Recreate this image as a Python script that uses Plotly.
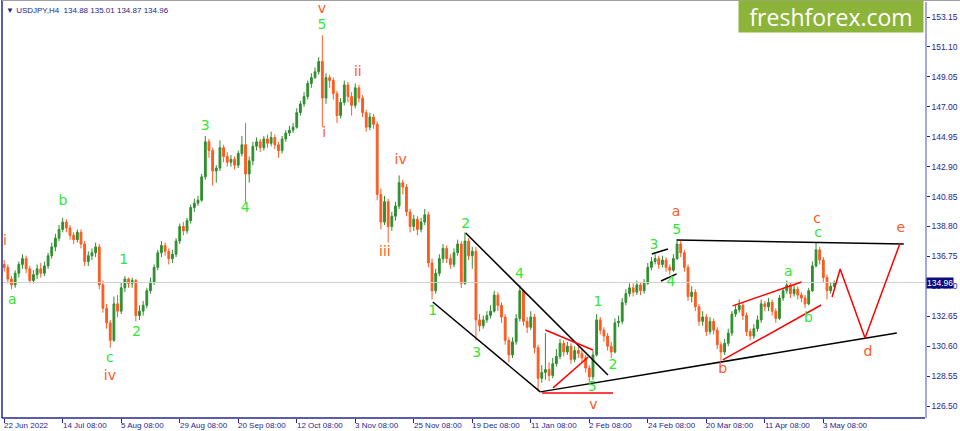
import plotly.graph_objects as go

# USDJPY H4 chart redrawn with one candle per trading day (day index on x)
first_open = 136.2
closes = [
    136.0, 135.2, 134.8, 135.6, 136.2, 136.6, 135.9, 135.1, 135.5, 135.9,
    135.6, 136.1, 136.8, 137.4, 138.0, 138.6, 139.1, 138.7, 138.2, 137.9,
    138.4, 137.6, 136.4, 136.8, 137.0, 137.4, 134.8, 133.2, 132.2, 131.0,
    133.5, 133.0, 134.6, 135.2, 134.9, 135.1, 132.7, 133.0, 133.4, 134.4,
    135.0, 136.0, 137.0, 137.5, 137.1, 136.6, 136.9, 137.8, 138.8, 138.5,
    139.2, 140.1, 140.4, 140.6, 142.2, 144.6, 144.0, 142.6, 142.8, 144.2,
    143.6, 143.2, 143.4, 143.0, 143.8, 144.4, 142.4, 143.3, 144.3, 144.6,
    144.2, 144.8, 144.5, 144.9, 144.4, 144.0, 144.8, 145.2, 145.4, 145.6,
    146.6, 147.2, 147.7, 148.6, 149.0, 149.4, 150.1, 147.6, 149.0, 148.8,
    147.9, 146.4, 147.3, 148.5, 147.7, 147.1, 148.3, 147.6, 146.6, 145.6,
    146.3, 145.8, 141.0, 139.1, 140.5, 138.8, 139.5, 140.2, 141.8, 141.5,
    139.8, 138.8, 139.3, 138.6, 139.1, 139.6, 136.3, 134.4, 135.6, 136.6,
    137.3, 136.6, 136.2, 137.0, 137.6, 134.9, 137.8, 136.8, 137.1, 132.4,
    132.0, 132.4, 132.7, 133.0, 134.1, 133.4, 132.6, 131.0, 130.0, 130.9,
    132.5, 134.4, 132.3, 131.9, 132.6, 130.5, 128.4, 128.8, 129.0, 128.6,
    129.4, 129.9, 130.8, 130.2, 130.6, 129.7, 130.3, 130.1, 129.8, 129.1,
    128.5, 130.0, 132.4, 131.7, 131.3, 130.6, 130.2, 132.2, 132.3, 133.6,
    134.2, 134.6, 134.3, 134.8, 134.4, 134.9, 136.0, 136.4, 136.6, 136.2,
    136.5, 136.0, 135.8, 136.6, 137.6, 137.0, 136.0, 134.0, 134.3, 133.3,
    132.3, 132.6, 131.6, 132.3, 131.7, 130.7, 130.2, 130.8, 131.5, 132.8,
    133.1, 133.4, 132.7, 131.6, 131.3, 131.8, 132.4, 133.5, 133.3, 133.6,
    133.0, 132.5, 133.9, 134.4, 134.8, 134.2, 134.5, 134.1, 133.9, 133.5,
    134.4, 136.1, 137.2, 136.5, 135.3, 134.4, 134.7, 134.96,
]
highs = [
    136.5, 136.2, 135.4, 135.8, 136.4, 136.9, 136.8, 136.1, 135.8, 136.2,
    136.3, 136.4, 137.0, 137.7, 138.3, 138.9, 139.4, 139.3, 138.9, 138.4,
    138.6, 138.6, 137.8, 137.1, 137.3, 137.7, 137.6, 135.1, 133.5, 132.4,
    134.0, 134.1, 135.0, 135.4, 135.3, 135.3, 135.2, 133.4, 133.7, 134.6,
    135.3, 136.2, 137.2, 137.8, 137.7, 137.3, 137.2, 138.0, 139.0, 139.1,
    139.4, 140.3, 140.7, 140.9, 142.4, 145.0, 144.8, 144.2, 143.0, 144.7,
    144.4, 143.9, 143.7, 143.6, 144.0, 145.0, 145.9, 143.6, 144.6, 144.9,
    144.8, 145.0, 145.1, 145.3, 145.1, 144.6, 145.0, 145.4, 145.7, 145.9,
    146.9, 147.4, 148.0, 148.8, 149.3, 149.7, 150.4, 151.9, 149.3, 149.2,
    149.0, 148.1, 147.6, 148.8, 148.7, 148.0, 148.6, 148.5, 147.8, 146.8,
    146.6, 146.5, 146.0, 141.4, 140.9, 140.7, 139.8, 140.5, 142.3, 142.0,
    141.7, 140.0, 139.6, 139.5, 139.4, 140.0, 139.8, 136.6, 135.9, 136.9,
    137.6, 137.5, 136.9, 137.3, 137.9, 137.8, 138.4, 138.0, 137.4, 137.4,
    132.8, 132.7, 133.0, 133.4, 134.4, 134.3, 133.6, 132.8, 131.2, 131.2,
    132.8, 134.8, 134.5, 132.6, 133.0, 132.8, 130.7, 129.3, 131.5, 129.5,
    129.8, 130.4, 131.1, 131.0, 130.9, 130.8, 130.6, 130.6, 130.4, 130.0,
    129.3, 130.3, 132.8, 132.6, 131.9, 131.5, 130.9, 132.5, 132.7, 133.9,
    134.5, 134.9, 134.9, 135.1, 135.0, 135.2, 136.3, 136.7, 136.9, 136.8,
    136.8, 136.7, 136.2, 136.9, 137.9, 137.8, 137.2, 136.2, 134.7, 134.5,
    133.5, 133.0, 132.8, 132.6, 132.5, 131.9, 130.9, 131.1, 131.8, 133.0,
    133.4, 133.8, 133.6, 132.9, 131.8, 132.1, 132.7, 133.8, 133.7, 133.9,
    133.8, 133.2, 134.1, 134.6, 135.1, 135.0, 134.8, 134.7, 134.3, 134.1,
    134.6, 136.4, 137.7, 137.4, 136.7, 135.5, 135.0, 135.1,
]
lows = [
    135.7, 134.9, 134.5, 134.6, 135.3, 135.9, 135.6, 134.9, 134.9, 135.2,
    135.3, 135.4, 135.9, 136.6, 137.1, 137.8, 138.4, 138.4, 137.9, 137.6,
    137.7, 137.3, 136.1, 136.1, 136.5, 136.7, 134.5, 132.9, 131.8, 130.5,
    130.9, 132.6, 132.8, 134.3, 134.6, 134.6, 132.3, 132.4, 132.7, 133.2,
    134.2, 134.8, 135.8, 136.7, 136.8, 136.2, 136.3, 136.7, 137.6, 138.2,
    138.3, 139.0, 139.8, 140.2, 140.5, 142.0, 143.5, 141.6, 141.8, 142.6,
    143.2, 142.9, 142.9, 142.7, 142.8, 143.6, 140.4, 141.8, 143.0, 144.0,
    143.9, 144.0, 144.2, 144.3, 144.1, 143.5, 143.8, 144.6, 145.0, 145.2,
    145.5, 146.4, 147.0, 147.5, 148.3, 148.9, 149.2, 145.6, 147.2, 148.3,
    147.5, 145.9, 146.2, 147.1, 147.3, 146.4, 146.9, 147.3, 146.3, 145.3,
    145.4, 145.5, 140.6, 138.6, 138.9, 137.7, 138.5, 139.2, 140.0, 141.0,
    139.5, 138.4, 138.5, 138.2, 138.4, 138.9, 136.0, 133.8, 134.2, 135.4,
    136.3, 136.3, 135.9, 136.0, 136.8, 134.6, 134.8, 136.5, 135.9, 131.0,
    131.6, 131.8, 132.2, 132.5, 132.9, 133.0, 132.2, 130.7, 129.5, 129.8,
    130.7, 132.3, 132.0, 131.5, 131.7, 130.1, 127.5, 128.1, 128.3, 128.2,
    128.4, 129.2, 129.7, 129.9, 130.0, 129.4, 129.5, 129.8, 129.5, 128.8,
    128.1, 128.3, 129.9, 131.4, 130.9, 130.3, 129.8, 130.1, 131.9, 132.1,
    133.4, 134.0, 134.0, 134.1, 134.1, 134.2, 134.8, 135.8, 136.2, 135.9,
    136.0, 135.7, 135.5, 135.7, 136.5, 136.7, 135.7, 133.7, 133.6, 133.0,
    132.0, 132.0, 131.3, 131.4, 131.4, 130.4, 129.6, 130.0, 130.6, 131.3,
    132.6, 132.9, 132.4, 131.3, 131.0, 131.1, 131.6, 132.2, 133.0, 133.0,
    132.7, 132.2, 132.4, 133.7, 134.2, 133.9, 134.0, 133.8, 133.6, 133.2,
    133.4, 134.3, 136.0, 136.2, 135.0, 133.8, 134.2, 134.6,
]
days = list(range(len(closes)))
opens = [first_open] + closes[:-1]

# axis labels
x_tick_days = [0, 16, 32, 48, 64, 80, 96, 112, 128, 144, 160, 176, 192, 208, 224]
x_tick_text = ["22 Jun 2022", "14 Jul 08:00", "5 Aug 08:00", "29 Aug 08:00",
               "20 Sep 08:00", "12 Oct 08:00", "3 Nov 08:00", "25 Nov 08:00",
               "19 Dec 08:00", "11 Jan 08:00", "2 Feb 08:00", "24 Feb 08:00",
               "20 Mar 08:00", "11 Apr 08:00", "3 May 08:00"]
y_tick_vals = [126.50, 128.55, 130.60, 132.65, 134.70, 136.75, 138.80, 140.85,
               142.90, 144.95, 147.00, 149.05, 151.10, 153.15]
last_price = 134.96

# wave counts (day, price)
green_text = ["a", "b", "c", "1", "2", "3", "4", "5", "1", "2", "3", "4", "5",
              "1", "2", "3", "4", "5", "a", "b", "c"]
green_day = [2.2, 16.1, 28.9, 32.7, 36.2, 55.0, 65.9, 86.9, 117.2, 126.2, 129.2,
             140.9, 160.8, 162.4, 166.5, 177.7, 182.3, 183.9, 214.4, 219.9, 222.6]
green_price = [133.70, 140.48, 129.73, 136.44, 131.51, 145.68, 140.0, 152.60,
               133.01, 138.97, 130.07, 135.48, 127.74, 133.56, 129.31, 137.53,
               134.93, 138.56, 135.62, 132.53, 138.29]
orange_text = ["i", "iv", "v", "i", "ii", "iii", "iv", "v", "a", "b", "c", "d", "e"]
orange_day = [0.2, 28.9, 86.9, 87.5, 96.7, 104.1, 108.4, 161.1, 183.7, 196.5,
              222.3, 236.2, 245.2]
orange_price = [137.74, 128.49, 153.70, 145.2, 149.38, 137.05, 143.29, 126.57,
                139.73, 128.97, 139.31, 130.14, 138.63]

# trend lines ((day, price), (day, price))
black_lines = [
    ((183.9, 137.88), (246.0, 137.60)),
    ((146.6, 127.47), (244.1, 131.51)),
    ((126.2, 138.36), (165.1, 128.63)),
    ((117.2, 133.63), (146.6, 127.47)),
    ((177.1, 136.92), (181.5, 137.26)),
    ((179.6, 135.07), (183.9, 135.55)),
]
red_lines = [
    ((148.0, 131.71), (161.0, 130.34)),
    ((150.1, 127.74), (159.7, 129.86)),
    ((147.1, 127.40), (166.5, 127.40)),
    ((199.2, 133.36), (218.0, 135.00)),
    ((196.5, 129.66), (223.4, 133.42)),
]
forecast_day = [226.4, 228.6, 235.4, 245.0]
forecast_price = [133.97, 135.89, 131.16, 137.67]

NAVY = "#262690"
GREEN = "#35e635"
ORANGE = "#ff5a1e"

fig = go.Figure()

fig.add_trace(go.Scatter(x=[-1, 260], y=[last_price, last_price], mode="lines",
                         line=dict(color="#d0d0d0", width=1), hoverinfo="skip"))

fig.add_trace(go.Candlestick(
    x=days, open=opens, high=highs, low=lows, close=closes,
    increasing=dict(line=dict(color="#2f8f2f", width=1), fillcolor="#2f8f2f"),
    decreasing=dict(line=dict(color="#ff5a1e", width=1), fillcolor="#ff5a1e"),
    whiskerwidth=0,
))


def seg_xy(lines):
    xs, ys = [], []
    for (d0, p0), (d1, p1) in lines:
        xs += [d0, d1, None]
        ys += [p0, p1, None]
    return xs, ys


bx, by = seg_xy(black_lines)
fig.add_trace(go.Scatter(x=bx, y=by, mode="lines", line=dict(color="black", width=1.5)))
rx, ry = seg_xy(red_lines)
fig.add_trace(go.Scatter(x=rx, y=ry, mode="lines", line=dict(color="red", width=1.5)))
fig.add_trace(go.Scatter(x=forecast_day, y=forecast_price, mode="lines",
                         line=dict(color="red", width=1.5)))

fig.add_trace(go.Scatter(x=green_day, y=green_price, mode="text", text=green_text,
                         textfont=dict(color=GREEN, size=14, family="DejaVu Sans")))
fig.add_trace(go.Scatter(x=orange_day, y=orange_price, mode="text", text=orange_text,
                         textfont=dict(color=ORANGE, size=14, family="DejaVu Sans")))

# x labels are left aligned at their tick, like the terminal
for d, t in zip(x_tick_days, x_tick_text):
    fig.add_annotation(x=d, y=0, xref="x", yref="paper", text=t, showarrow=False,
                       xanchor="left", yanchor="top", xshift=-2, yshift=-1,
                       font=dict(size=8, color=NAVY, family="Liberation Sans"))

fig.add_annotation(x=1, y=last_price, xref="paper", yref="y", text="134.96",
                   showarrow=False, xanchor="left", xshift=1, bgcolor="#0a0a80",
                   font=dict(size=8.5, color="white", family="Liberation Sans"),
                   borderpad=0)

fig.add_annotation(x=0, y=1, xref="paper", yref="paper", xanchor="left", yanchor="top",
                   text="\u25bc USDJPY,H4  134.88 135.01 134.87 134.96", showarrow=False,
                   xshift=2, yshift=-2,
                   font=dict(size=8, color=NAVY, family="Liberation Sans"))

# logo
fig.add_annotation(x=1, y=1, xref="paper", yref="paper", xanchor="right", yanchor="top",
                   text="freshforex.com", showarrow=False, width=184, height=31,
                   bgcolor="#8db43a", borderpad=0, yshift=2, xshift=-1,
                   font=dict(size=23, color="white", family="Open Sans"))

# frame
fig.add_shape(type="line", xref="paper", yref="paper", x0=0, x1=0, y0=0, y1=1.005,
              line=dict(color=NAVY, width=1.5))
fig.add_shape(type="line", xref="paper", yref="paper", x0=0, x1=1, y0=0, y1=0,
              line=dict(color=NAVY, width=1.5))
fig.add_shape(type="line", xref="paper", yref="paper", x0=0, x1=1.04, y0=1.004, y1=1.004,
              line=dict(color="#a0a0a0", width=1.5))

fig.update_layout(
    width=960, height=431,
    margin=dict(l=2, r=32, t=2, b=13),
    paper_bgcolor="white", plot_bgcolor="white",
    showlegend=False,
    xaxis=dict(range=[-0.6, 251.8], rangeslider=dict(visible=False), showgrid=False,
               zeroline=False, tickvals=x_tick_days, showticklabels=False,
               ticks="outside", ticklen=4, tickcolor=NAVY),
    yaxis=dict(range=[125.68, 154.18], side="right", showgrid=False, zeroline=False,
               tickvals=y_tick_vals, ticktext=["%.2f" % v for v in y_tick_vals],
               ticks="outside", ticklen=3, tickcolor=NAVY,
               tickfont=dict(size=8.5, color=NAVY, family="Liberation Sans"),
               showline=True, linecolor="#a8a8d8", linewidth=1.5),
)

fig.write_html("out.html", config={"displayModeBar": False},
               post_script="document.body.style.margin='0px';")
